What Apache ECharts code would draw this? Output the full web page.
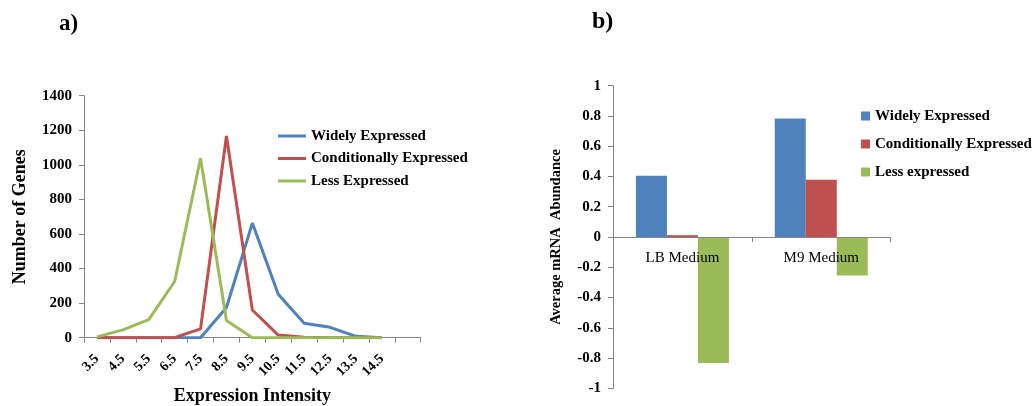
<!DOCTYPE html>
<html>
<head>
<meta charset="utf-8">
<script src="https://cdn.jsdelivr.net/npm/echarts@6/dist/echarts.min.js"></script>
<style>html,body{margin:0;padding:0;background:#fff;}#c{width:1033px;height:406px;}</style>
</head>
<body>
<div id="c"></div>
<script>
// ---- Data: panel a) ----
const intensityCats = ['3.5','4.5','5.5','6.5','7.5','8.5','9.5','10.5','11.5','12.5','13.5','14.5',''];
const widelyCounts = [0,0,0,0,0,175,663,252,84,60,8,0,null];
const conditionalCounts = [0,0,0,0,51,1167,160,15,2,0,0,0,null];
const lessCounts = [5,45,105,325,1038,100,0,0,0,0,0,0,null];
// ---- Data: panel b) ----
const mediumCats = ['LB Medium','M9 Medium'];
const widelyAbund = [0.405,0.783];
const conditionalAbund = [0.012,0.378];
const lessAbund = [-0.832,-0.254];

const F = 'Liberation Serif, Times New Roman, serif';
const BLUE = '#4F81BD', RED = '#C0504D', GREEN = '#9BBB59';
const AX = '#868686';

const gridB = {left:613, top:85.7, width:277.7, height:302.6, outerBoundsMode:'none', containLabel:false};
const yMinB = -1, yMaxB = 1;

const chart = echarts.init(document.getElementById('c'), null, {renderer:'canvas'});
chart.setOption({
  animation: false,
  backgroundColor: '#fff',
  title: [
    {text:'a)', left:54, top:8, textStyle:{fontFamily:F, fontSize:23, fontWeight:'bold', color:'#000'}},
    {text:'b)', left:587, top:5, textStyle:{fontFamily:F, fontSize:24, fontWeight:'bold', color:'#000'}}
  ],
  legend: [
    {
      data:['Widely Expressed','Conditionally Expressed','Less Expressed'],
      left:278, top:128, padding:0, orient:'vertical', icon:'rect', itemWidth:28, itemHeight:3, itemGap:6.5,
      textStyle:{fontFamily:F, fontSize:15, fontWeight:'bold', color:'#000', lineHeight:16}
    },
    {
      data:['Widely Expressed','Conditionally Expressed','Less expressed'],
      left:861, top:108, padding:0, orient:'vertical', icon:'rect', itemWidth:9, itemHeight:9, itemGap:12,
      textStyle:{fontFamily:F, fontSize:15, fontWeight:'bold', color:'#000', lineHeight:16}
    }
  ],
  grid: [
    {left:84, top:95.7, width:336.7, height:242, outerBoundsMode:'none', containLabel:false},
    gridB
  ],
  xAxis: [
    {
      gridIndex:0, type:'category', data:intensityCats, boundaryGap:true,
      axisLine:{lineStyle:{color:AX, width:1}},
      axisTick:{show:true, interval:0, length:5, lineStyle:{color:AX}},
      axisLabel:{interval:0, rotate:45, margin:19, fontFamily:F, fontSize:14, fontWeight:'bold', color:'#000'},
      name:'Expression Intensity', nameLocation:'middle', nameGap:50,
      nameTextStyle:{fontFamily:F, fontSize:18, fontWeight:'bold', color:'#000'}
    },
    {
      gridIndex:1, type:'category', data:mediumCats, boundaryGap:true, position:'bottom', z:5,
      offset: -gridB.height * (0 - yMinB) / (yMaxB - yMinB),
      axisLine:{onZero:false, lineStyle:{color:AX, width:1}},
      axisTick:{show:true, interval:0, length:5, lineStyle:{color:AX}},
      axisLabel:{interval:0, margin:14, fontFamily:F, fontSize:15, color:'#000'}
    }
  ],
  yAxis: [
    {
      gridIndex:0, type:'value', min:0, max:1400, interval:200,
      axisLine:{show:true, lineStyle:{color:AX, width:1}},
      axisTick:{show:true, length:5, lineStyle:{color:AX}},
      splitLine:{show:false},
      axisLabel:{margin:12, fontFamily:F, fontSize:15, fontWeight:'bold', color:'#000', formatter:function(v){return String(v);}},
      name:'Number of Genes', nameLocation:'middle', nameGap:55,
      nameTextStyle:{fontFamily:F, fontSize:18, fontWeight:'bold', color:'#000'}
    },
    {
      gridIndex:1, type:'value', min:yMinB, max:yMaxB, interval:0.2,
      axisLine:{show:true, lineStyle:{color:AX, width:1}},
      axisTick:{show:true, length:5, lineStyle:{color:AX}},
      splitLine:{show:false},
      axisLabel:{margin:12, fontFamily:F, fontSize:15, fontWeight:'bold', color:'#000', formatter:function(v){return String(Math.round(v*10)/10);}},
      name:'Average mRNA  Abundance', nameLocation:'middle', nameGap:49,
      nameTextStyle:{fontFamily:F, fontSize:14.5, fontWeight:'bold', color:'#000'}
    }
  ],
  series: [
    {name:'Widely Expressed', type:'line', xAxisIndex:0, yAxisIndex:0, data:widelyCounts,
     symbol:'none', lineStyle:{width:3, color:BLUE}, itemStyle:{color:BLUE}},
    {name:'Conditionally Expressed', type:'line', xAxisIndex:0, yAxisIndex:0, data:conditionalCounts,
     symbol:'none', lineStyle:{width:3, color:RED}, itemStyle:{color:RED}},
    {name:'Less Expressed', type:'line', xAxisIndex:0, yAxisIndex:0, data:lessCounts,
     symbol:'none', lineStyle:{width:3, color:GREEN}, itemStyle:{color:GREEN}},
    {name:'Widely Expressed', type:'bar', xAxisIndex:1, yAxisIndex:1, data:widelyAbund,
     barGap:'0%', barCategoryGap:'33%', itemStyle:{color:BLUE}},
    {name:'Conditionally Expressed', type:'bar', xAxisIndex:1, yAxisIndex:1, data:conditionalAbund,
     barGap:'0%', barCategoryGap:'33%', itemStyle:{color:RED}},
    {name:'Less expressed', type:'bar', xAxisIndex:1, yAxisIndex:1, data:lessAbund,
     barGap:'0%', barCategoryGap:'33%', itemStyle:{color:GREEN}}
  ]
});
</script>
</body>
</html>
